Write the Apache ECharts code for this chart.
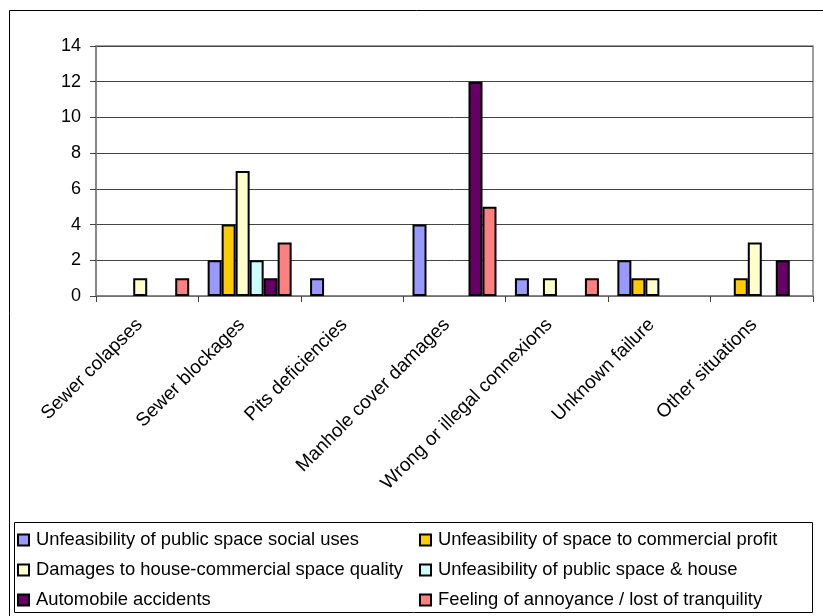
<!DOCTYPE html>
<html><head><meta charset="utf-8">
<script src="https://cdn.jsdelivr.net/npm/echarts@6/dist/echarts.min.js"></script>
<style>html,body{margin:0;padding:0;background:#fff}#c{width:823px;height:616px}</style>
</head><body><div id="c"></div>
<script>
const categories = ['Sewer colapses','Sewer blockages','Pits deficiencies','Manhole cover damages','Wrong or illegal connexions','Unknown failure','Other situations'];
const seriesNames = ['Unfeasibility of public space social uses','Unfeasibility of space to commercial profit','Damages to house-commercial space quality','Unfeasibility of public space & house','Automobile accidents','Feeling of annoyance / lost of tranquility'];
const publicSocialUses   = [null, 2, 1, 4, 1, 2, null];
const commercialProfit   = [null, 4, null, null, null, 1, 1];
const houseCommercial    = [1, 7, null, null, 1, 1, 3];
const publicSpaceHouse   = [null, 2, null, null, null, null, null];
const automobileAccidents= [null, 1, null, 12, null, null, 2];
const annoyance          = [1, 3, null, 5, 1, null, null];
const yTicks = [0, 14, 2];
const colors = ['#9999FF','#FFCC00','#FFFFCC','#CCFFFF','#660066','#FF8080'];
const values = [publicSocialUses, commercialProfit, houseCommercial, publicSpaceHouse, automobileAccidents, annoyance];

const font = 'Liberation Sans, Arial, sans-serif';
const chart = echarts.init(document.getElementById('c'), null, {renderer:'canvas'});
const series = seriesNames.map((n,i)=>({
  name:n, type:'bar', data:values[i], barGap:'0%', barCategoryGap:'18%',
  itemStyle:{color:colors[i], borderColor:'#000', borderWidth:2},
  emphasis:{disabled:true}, animation:false
}));
const legendCommon = {
  orient:'vertical', itemWidth:11, itemHeight:11, itemGap:12, padding:0,
  textStyle:{fontFamily:font, fontSize:18.4, lineHeight:18, color:'#000', padding:[0,0,0,2]},
  itemStyle:{borderColor:'#000', borderWidth:2}, icon:'rect', selectedMode:false
};
chart.setOption({
  animation:false,
  grid:{left:96, right:10, top:46, bottom:320, show:true, borderColor:'#808080', borderWidth:1.5},
  xAxis:{type:'category', data:categories,
    axisLine:{lineStyle:{color:'#808080', width:1.5}},
    axisTick:{show:true, length:6, lineStyle:{color:'#444'}},
    axisLabel:{rotate:45, margin:18, padding:[0,11,0,0], fontFamily:font, fontSize:19, color:'#000', interval:0}},
  yAxis:{type:'value', min:yTicks[0], max:yTicks[1], interval:yTicks[2],
    axisLine:{show:true, lineStyle:{color:'#808080', width:1.5}},
    axisTick:{show:true, length:6, lineStyle:{color:'#444'}},
    splitLine:{lineStyle:{color:'#444', width:1}},
    axisLabel:{fontFamily:font, fontSize:18, color:'#000', margin:15}},
  legend:[
    Object.assign({left:17, top:531, data:[seriesNames[0],seriesNames[2],seriesNames[4]]}, legendCommon),
    Object.assign({left:419, top:531, data:[seriesNames[1],seriesNames[3],seriesNames[5]]}, legendCommon)
  ],
  graphic:[
    {type:'rect', shape:{x:9.5,y:10.5,width:900,height:700}, style:{fill:null, stroke:'#000', lineWidth:1}, silent:true, z:-1},
    {type:'rect', shape:{x:14.5,y:522.5,width:798,height:90}, style:{fill:null, stroke:'#000', lineWidth:1}, silent:true}
  ],
  series:series
});
</script></body></html>
